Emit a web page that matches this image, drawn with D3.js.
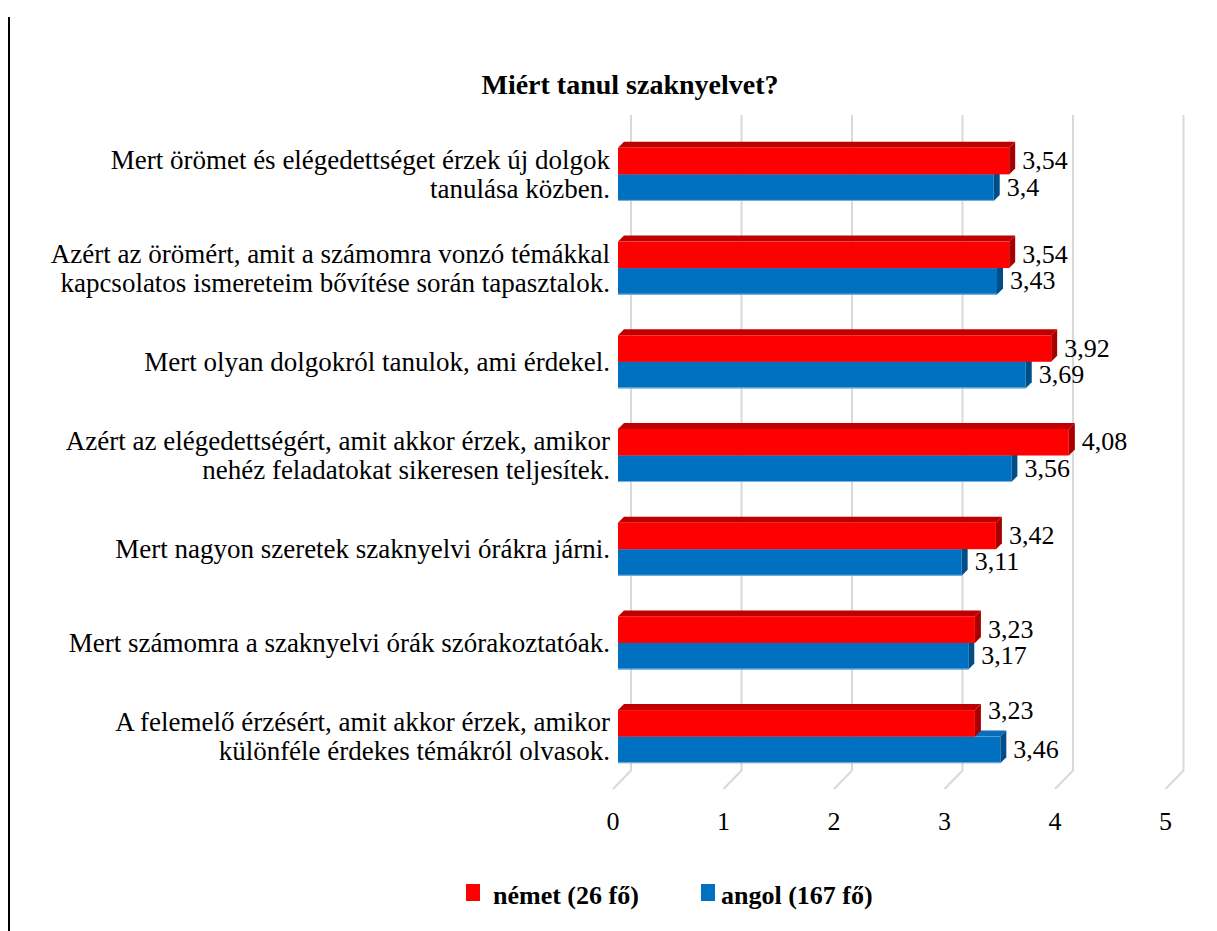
<!DOCTYPE html>
<html>
<head>
<meta charset="utf-8">
<script src="https://cdn.jsdelivr.net/npm/d3@7"></script>
<style>
  html, body { margin: 0; padding: 0; background: #fff; }
  svg { display: block; }
  text { font-family: "Liberation Serif", "DejaVu Serif", serif; fill: #000; }
</style>
</head>
<body>
<svg id="chart" width="1217" height="931"></svg>
<script>
// ---- data ----
const title = "Miért tanul szaknyelvet?";
const categories = [
  ["Mert örömet és elégedettséget érzek új dolgok", "tanulása közben."],
  ["Azért az örömért, amit a számomra vonzó témákkal", "kapcsolatos ismereteim bővítése során tapasztalok."],
  ["Mert olyan dolgokról tanulok, ami érdekel."],
  ["Azért az elégedettségért, amit akkor érzek, amikor", "nehéz feladatokat sikeresen teljesítek."],
  ["Mert nagyon szeretek szaknyelvi órákra járni."],
  ["Mert számomra a szaknyelvi órák szórakoztatóak."],
  ["A felemelő érzésért, amit akkor érzek, amikor", "különféle érdekes témákról olvasok."]
];
const seriesNames = ["német (26 fő)", "angol (167 fő)"];
const nemet = [3.54, 3.54, 3.92, 4.08, 3.42, 3.23, 3.23];
const angol = [3.4, 3.43, 3.69, 3.56, 3.11, 3.17, 3.46];
const xTicks = [0, 1, 2, 3, 4, 5];

// ---- styles ----
const colors = {
  red:  { front: "#FF0000", top: "#C00000", side: "#A80000" },
  blue: { front: "#0070C0", top: "#0B6DB7", side: "#004E87", edge: "#7FB2DF" }
};

const svg = d3.select("#chart");

// page border line
svg.append("line").attr("x1", 9).attr("x2", 9).attr("y1", 17).attr("y2", 931)
  .attr("stroke", "#000").attr("stroke-width", 2);

// scales
const x = d3.scaleLinear().domain([0, 5]).range([618, 618 + 5 * 110.5]);
const y = d3.scaleBand().domain(d3.range(categories.length))
  .range([116, 795]).paddingInner(0.434).paddingOuter(0.34);
const ys = d3.scaleBand().domain([0, 1]).range([0, y.bandwidth()]).padding(0);

const backDX = 13, frontDX = -5;
const wallTop = 115, wallBottom = 770.5, floorFront = 789;
const depth = 6;

// gridlines (back wall + floor slant)
const grid = svg.append("g");
xTicks.forEach(t => {
  const bx = x(t) + backDX, fx = x(t) + frontDX;
  grid.append("path")
    .attr("d", `M${bx},${wallTop} L${bx},${wallBottom} L${fx},${floorFront}`)
    .attr("fill", "none").attr("stroke", "#D9D9D9").attr("stroke-width", 2);
});

// tick labels
svg.append("g").selectAll("text").data(xTicks).join("text")
  .attr("x", d => x(d) + frontDX).attr("y", 830)
  .attr("text-anchor", "middle").attr("font-size", 26)
  .text(d => d);

// title
svg.append("text").attr("x", 630).attr("y", 94).attr("text-anchor", "middle")
  .attr("font-size", 28).attr("font-weight", "bold").text(title);

// bars
function bar3d(g, x0, x1, yt, h, c) {
  g.append("path")
    .attr("d", `M${x0},${yt} L${x0 + depth},${yt - depth} L${x1 + depth},${yt - depth} L${x1},${yt} Z`)
    .attr("fill", c.top);
  g.append("path")
    .attr("d", `M${x1},${yt} L${x1 + depth},${yt - depth} L${x1 + depth},${yt + h - depth} L${x1},${yt + h} Z`)
    .attr("fill", c.side);
  g.append("rect").attr("x", x0).attr("y", yt).attr("width", x1 - x0).attr("height", h)
    .attr("fill", c.front);
  if (c.edge) {
    g.append("line").attr("x1", x0).attr("x2", x1).attr("y1", yt + h - 0.5).attr("y2", yt + h - 0.5)
      .attr("stroke", c.edge).attr("stroke-width", 1);
  }
}

const fmt = v => String(v).replace(".", ",");
const barsG = svg.append("g");
const labelsG = svg.append("g");

categories.forEach((cat, i) => {
  const yb = y(i);
  const h = ys.bandwidth();
  bar3d(barsG, x(0), x(angol[i]), yb + ys(1), h, colors.blue);
  bar3d(barsG, x(0), x(nemet[i]), yb + ys(0), h, colors.red);

  const up = angol[i] > nemet[i] ? 12 : 0;
  labelsG.append("text")
    .attr("x", x(nemet[i]) + depth + 7)
    .attr("y", yb + ys(0) + h / 2 + 8 - up)
    .attr("font-size", 26).text(fmt(nemet[i]));
  labelsG.append("text")
    .attr("x", x(angol[i]) + depth + 7)
    .attr("y", yb + ys(1) + h / 2 + 8)
    .attr("font-size", 26).text(fmt(angol[i]));

  const cy = yb + y.bandwidth() / 2;
  const lh = 29;
  const t = svg.append("text").attr("text-anchor", "end").attr("font-size", 27);
  cat.forEach((line, k) => {
    t.append("tspan").attr("x", 610)
      .attr("y", cy + 9 + (k - (cat.length - 1) / 2) * lh)
      .text(line);
  });
});

// legend
const legend = svg.append("g");
const legItems = [
  { name: seriesNames[0], color: colors.red.front, sx: 466, tx: 493 },
  { name: seriesNames[1], color: colors.blue.front, sx: 701, tx: 721 }
];
legItems.forEach(d => {
  legend.append("rect").attr("x", d.sx).attr("y", 884).attr("width", 14).attr("height", 17)
    .attr("fill", d.color);
  legend.append("text").attr("x", d.tx).attr("y", 904)
    .attr("font-size", 26).attr("font-weight", "bold").text(d.name);
});
</script>
</body>
</html>
